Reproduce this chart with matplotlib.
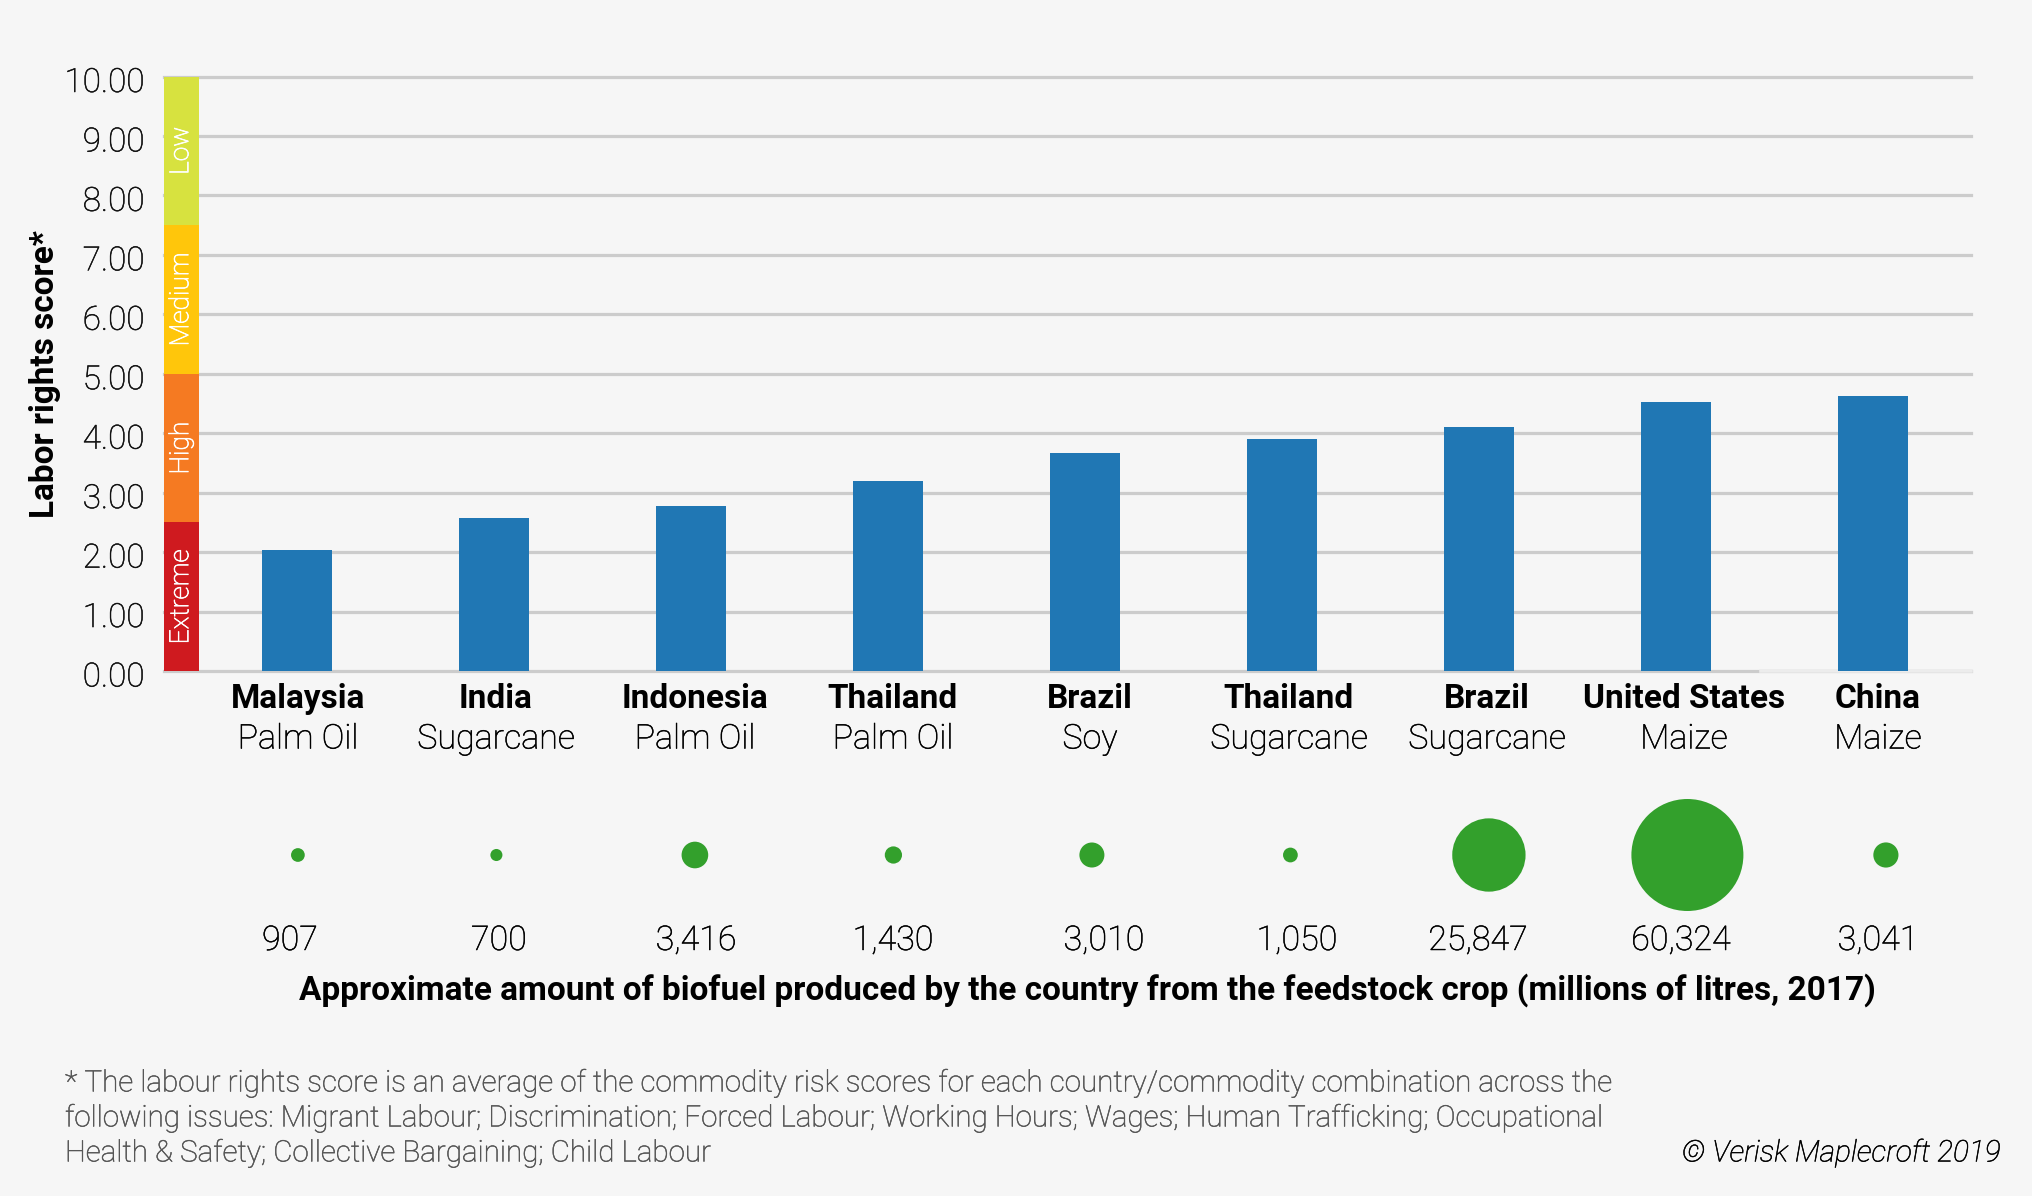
"""Labour rights score by country/feedstock, with biofuel volume bubbles."""
import matplotlib
matplotlib.use('Agg')
import matplotlib.pyplot as plt
import matplotlib.patheffects as pe
from matplotlib.transforms import ScaledTranslation

countries = ['Malaysia', 'India', 'Indonesia', 'Thailand', 'Brazil',
             'Thailand', 'Brazil', 'United States', 'China']
crops = ['Palm Oil', 'Sugarcane', 'Palm Oil', 'Palm Oil', 'Soy',
         'Sugarcane', 'Sugarcane', 'Maize', 'Maize']
scores = [2.03, 2.58, 2.78, 3.20, 3.67, 3.91, 4.10, 4.53, 4.63]
litres = [907, 700, 3416, 1430, 3010, 1050, 25847, 60324, 3041]

band_names = ['Extreme', 'High', 'Medium', 'Low']
band_edges = [0, 2.5, 5, 7.5, 10]
band_colors = ['#CF1A1F', '#F57A22', '#FFC60B', '#D7E23F']
score_ticks = [0, 1, 2, 3, 4, 5, 6, 7, 8, 9, 10]

footnote = ['* The labour rights score is an average of the commodity risk scores for each country/commodity combination across the',
            'following issues: Migrant Labour; Discrimination; Forced Labour; Working Hours; Wages; Human Trafficking; Occupational',
            'Health & Safety; Collective Bargaining; Child Labour']

W, H = 2032, 1196
BG = '#F6F6F6'
plt.rcParams['font.family'] = ['Roboto', 'DejaVu Sans']

fig = plt.figure(figsize=(W / 100, H / 100), dpi=100, facecolor=BG)


def firm(color, lw=0.35):
    # Roboto Light comes out too pale here, thicken it a little
    return [pe.withStroke(linewidth=lw, foreground=color)]


def put(x, y, s, **kw):
    # text placed by pixel position on the page
    kw.setdefault('ha', 'center')
    kw.setdefault('va', 'center')
    fig.text(x / W, 1 - y / H, s, **kw)


# ---- score panel ----
x0, x1, y_top, y_bot = 164, 1971, 76.5, 671
ax = fig.add_axes([x0 / W, 1 - y_bot / H, (x1 - x0) / W, (y_bot - y_top) / H])
ax.patch.set_alpha(0)
step = 197.0
first = 297.4
ax.set_xlim((x0 - first) / step, (x1 - first) / step)
ax.set_ylim(0, 10)
for s in ax.spines.values():
    s.set_visible(False)
ax.set_xticks([])
ax.set_yticks(score_ticks, [f'{v:.2f}' for v in score_ticks])
ax.tick_params(axis='y', length=0, pad=14, labelsize=24, labelcolor='#111111')
for lab in ax.get_yticklabels():
    lab.set_fontweight('light')
    lab.set_path_effects(firm('#111111'))
    lab.set_transform(lab.get_transform() + ScaledTranslation(0, -3 / 100, fig.dpi_scale_trans))
ax.grid(axis='y', color='#CCCCCC', lw=2.3)
ax.set_axisbelow(True)
for gl in ax.get_ygridlines():
    gl.set_clip_on(False)
# the baseline fades out under the last bar
ax.axhline(0, xmin=0.884, color='#ECECEC', lw=2.6, zorder=2, clip_on=False)

ax.bar(range(len(scores)), scores, width=0.355, color='#2077B4', zorder=3)

band_w = 34.5 / (x1 - x0)
for i, name in enumerate(band_names):
    ax.axhspan(band_edges[i], band_edges[i + 1], xmin=0, xmax=band_w,
               color=band_colors[i], lw=0, zorder=4)
    ax.text(band_w / 2, (band_edges[i] + band_edges[i + 1]) / 2, name,
            transform=ax.get_yaxis_transform(), rotation=90, ha='center',
            va='center', color='white', fontsize=19, fontweight='light',
            path_effects=firm('white', 0.5), zorder=5)

# ---- bubble panel ----
bx0, bx1, by0, by1 = 164, 1971, 790, 920
ax_b = fig.add_axes([bx0 / W, 1 - by1 / H, (bx1 - bx0) / W, (by1 - by0) / H])
ax_b.axis('off')
b_step = 198.5
ax_b.set_xlim((bx0 - first - 0.5) / b_step, (bx1 - first - 0.5) / b_step)
ax_b.set_ylim(-1, 1)
ax_b.scatter(range(len(litres)), [0] * len(litres),
             s=[v * 0.1078 for v in litres], color='#33A02C', lw=0, clip_on=False)

# ---- text rows ----
cat_x = [298, 496, 695, 893, 1090, 1289, 1487, 1684, 1878]
val_x = [290, 499, 696, 893, 1104, 1297, 1478, 1681, 1878]
for i in range(len(countries)):
    put(cat_x[i], 699, countries[i], fontsize=24, fontweight='bold', color='black')
    put(cat_x[i], 739.5, crops[i], fontsize=24.5, fontweight='light', color='black',
        path_effects=firm('black'))
    put(val_x[i], 941, f'{litres[i]:,}', fontsize=24.5, fontweight='light', color='black',
        path_effects=firm('black'))

put(45, 374, 'Labor rights score*', rotation=90, fontsize=24,
    fontweight='bold', color='black')
put(1087, 990, 'Approximate amount of biofuel produced by the country from the feedstock crop (millions of litres, 2017)',
    fontsize=24, fontweight='bold', color='black')

for y, line in zip([1083, 1118, 1153], footnote):
    put(65, y, line, ha='left', fontsize=21.3, fontweight='light', color='#555555',
        path_effects=firm('#555555'))
put(2001, 1153, '© Verisk Maplecroft 2019', ha='right', fontsize=21.5,
    style='italic', fontweight='light', color='black', path_effects=firm('black'))

fig.savefig('out.png', dpi=100, facecolor=BG)
